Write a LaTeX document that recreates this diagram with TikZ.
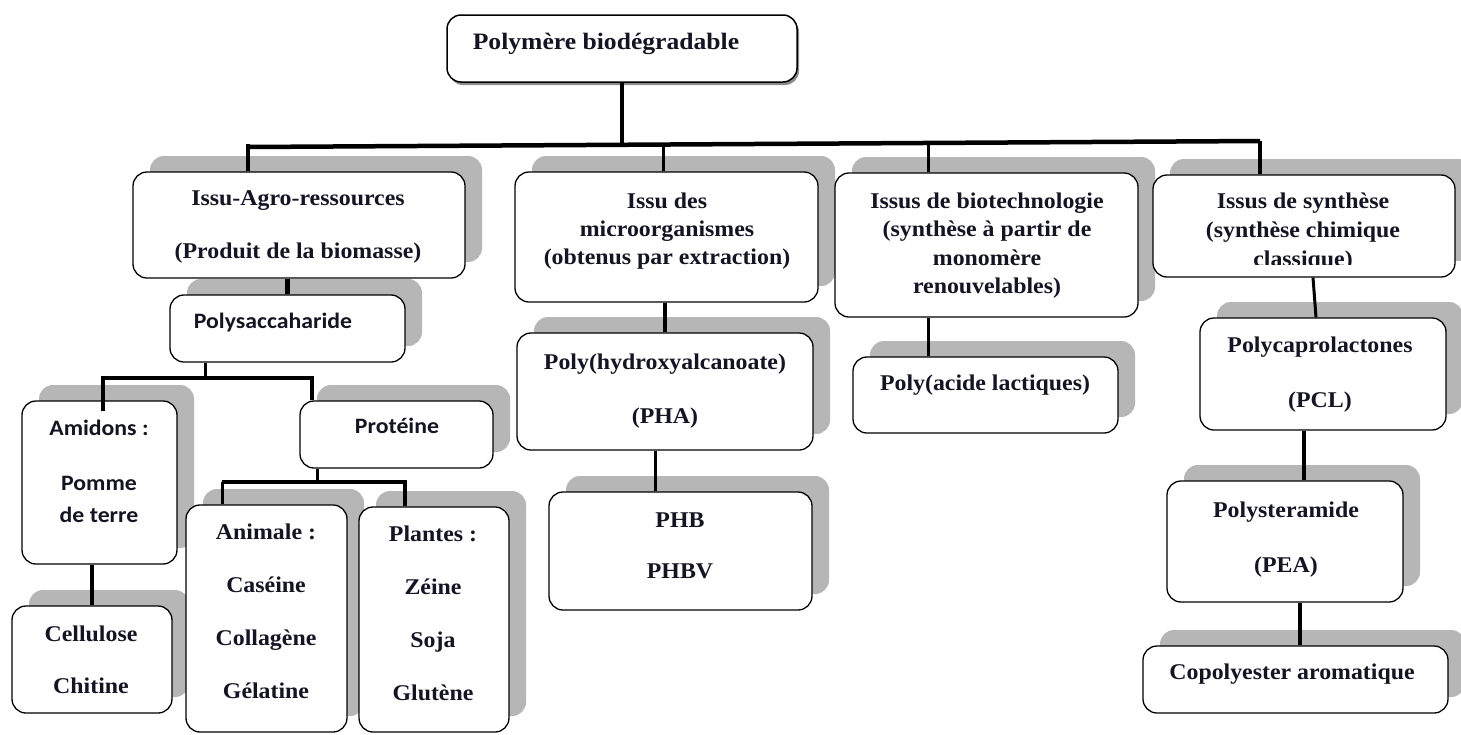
\documentclass[tikz,border=0pt]{standalone}
\usepackage{fontspec}
\setmainfont{Liberation Serif}
\newfontfamily\serfont[FakeStretch=1.06]{Liberation Serif}
\newfontfamily\topfont[FakeStretch=1.09]{Liberation Serif}
\newfontfamily\sanfont[FakeStretch=1.08]{Carlito}
\usetikzlibrary{shadows}
\definecolor{shadowc}{RGB}{182,182,182}
\definecolor{inkc}{RGB}{20,20,35}
\newcommand\sertxt[2]{\serfont\bfseries\fontsize{#1}{#2}\selectfont}
\newcommand\santxt[2]{\sanfont\bfseries\fontsize{#1}{#2}\selectfont}
\begin{document}
\begin{tikzpicture}[x=1pt,y=-1pt,
  box/.style={draw=black, line width=1.3pt, rounded corners=14pt, fill=white, inner sep=0pt,
     drop shadow={shadow xshift=17pt, shadow yshift=16pt, fill=shadowc, opacity=1}},
  topbox/.style={draw=black, line width=1.5pt, rounded corners=14pt, fill=white, inner sep=0pt,
     drop shadow={shadow xshift=2pt, shadow yshift=-3pt, fill=black!45, opacity=1}},
  lbl/.style={anchor=base, align=center, inner sep=0pt, text=inkc},
  wire/.style={line width=4.5pt},
  wirethin/.style={line width=3pt},
]
\useasboundingbox[fill=white] (0,0) rectangle (1461,734);

% boxes
\node[topbox, minimum width=350pt, minimum height=67pt] (top) at (622,48.5) {};
\node[box, minimum width=332pt, minimum height=106pt] (agro) at (299,225) {};
\node[box, minimum width=235pt, minimum height=67pt] (poly) at (287.5,328.5) {};
\node[box, minimum width=155pt, minimum height=163pt] (amid) at (99.5,482.5) {};
\node[box, minimum width=160pt, minimum height=107pt] (cell) at (92,659.5) {};
\node[box, minimum width=193pt, minimum height=67pt] (prot) at (396.5,434.5) {};
\node[box, minimum width=161pt, minimum height=227pt] (anim) at (266.5,618.5) {};
\node[box, minimum width=150pt, minimum height=225pt] (plan) at (434,619.5) {};
\node[box, minimum width=303pt, minimum height=130pt] (micro) at (666.5,237) {};
\node[box, minimum width=296pt, minimum height=117pt] (pha) at (665,391.5) {};
\node[box, minimum width=263pt, minimum height=118pt] (phb) at (680.5,551) {};
\node[box, minimum width=303pt, minimum height=144pt] (bio) at (986.5,245) {};
\node[box, minimum width=265pt, minimum height=76pt] (pla) at (985.5,395) {};
\node[box, minimum width=302pt, minimum height=102pt] (syn) at (1304,226) {};
\node[box, minimum width=246pt, minimum height=112pt] (pcl) at (1323,374) {};
\node[box, minimum width=236pt, minimum height=121pt] (pea) at (1285,541.5) {};
\node[box, minimum width=305pt, minimum height=67pt] (copo) at (1295.5,679.5) {};

% texts (anchor = baseline of the last line)
\node[lbl, font=\topfont\bfseries\fontsize{23.5}{28}\selectfont] (ttop) at (606,49) {Polymère biodégradable};
\node[lbl, font=\sertxt{22.5}{53}] (tagro) at (298,258) {Issu-Agro-ressources\\(Produit de la biomasse)};
\node[lbl, font=\santxt{22}{26}] (tpoly) at (273,328) {Polysaccaharide};
\node[lbl, font=\santxt{22}{32}] (tamid) at (99,522) {Amidons :\\[23pt]Pomme\\de terre};
\node[lbl, font=\sertxt{22.5}{52}] (tcell) at (91,693) {Cellulose\\Chitine};
\node[lbl, font=\santxt{22}{26}] (tprot) at (397,433) {Protéine};
\node[lbl, font=\sertxt{22.5}{52.7}] (tanim) at (266,698) {Animale :\\Caséine\\Collagène\\Gélatine};
\node[lbl, font=\sertxt{22.5}{52.7}] (tplan) at (433,700) {Plantes :\\Zéine\\Soja\\Glutène};
\node[lbl, font=\sertxt{22.5}{28}] (tmicro) at (667,264) {Issu des\\microorganismes\\(obtenus par extraction)};
\node[lbl, font=\sertxt{22.5}{54}] (tpha) at (665,423) {Poly(hydroxyalcanoate)\\(PHA)};
\node[lbl, font=\sertxt{22.5}{51}] (tphb) at (680,578) {PHB\\PHBV};
\node[lbl, font=\sertxt{22.5}{28.5}] (tbio) at (987,293.5) {Issus de biotechnologie\\(synthèse à partir de\\monomère\\renouvelables)};
\node[lbl, font=\sertxt{22.5}{28}] (tpla) at (985,390) {Poly(acide lactiques)};
\begin{scope}
\clip (syn.north west) rectangle ([yshift=13pt]syn.south east);
\node[lbl, font=\sertxt{22.5}{29}] (tsyn) at (1303,266) {Issus de synthèse\\(synthèse chimique\\classique)};
\end{scope}
\node[lbl, font=\sertxt{22.5}{55}] (tpcl) at (1320,407) {Polycaprolactones\\(PCL)};
\node[lbl, font=\sertxt{22.5}{55}] (tpea) at (1286,572) {Polysteramide\\(PEA)};
\node[lbl, font=\sertxt{22.5}{28}] (tcopo) at (1292,679) {Copolyester aromatique};

% connectors
\coordinate (b0) at (248,147);
\coordinate (b1) at (620,145);
\coordinate (b2) at (663,144.5);
\coordinate (b3) at (928,143);
\coordinate (b4) at (1260,141);
\draw[wire] (top.south) -- (top.south |- b1);
\draw[wire] (b0) -- (b4);
\draw[wire] ([yshift=3pt]b0) -- (b0 |- agro.north);
\draw[wirethin] (b2) -- (b2 |- micro.north);
\draw[wirethin] (b3) -- (b3 |- bio.north);
\draw[wire] (b4) -- (b4 |- syn.north);

\draw[wire] (poly.north |- agro.south) -- (poly.north);
\coordinate (p0) at (205,378);
\coordinate (p1) at (103,378);
\coordinate (p2) at (312,378);
\draw[wirethin] (p0 |- poly.south) -- (p0);
\draw[wire] ([yshift=-11pt]p1 |- amid.north) -- (p1) -- (p2) -- (p2 |- prot.north);
\draw[wire] (cell.north |- amid.south) -- (cell.north);
\coordinate (q0) at (317,482);
\coordinate (q1) at (222,482);
\coordinate (q2) at (405,482);
\draw[wirethin] (q0 |- prot.south) -- (q0);
\draw[wire] (q1) -- (q2) -- (q2 |- plan.north);
\draw[wirethin] (q1) -- (q1 |- anim.north);

\draw[wire] (pha.north |- micro.south) -- (pha.north);
\draw[wirethin] ([xshift=-10pt]pha.south) -- ([xshift=-10pt]pha.south |- phb.north);
\draw[wirethin] (b3 |- bio.south) -- (b3 |- pla.north);
\draw[wirethin] ([xshift=9pt]syn.south) -- ([xshift=-7pt]pcl.north);
\draw[wire] ([xshift=-19pt]pcl.south) -- ([xshift=-19pt]pcl.south |- pea.north);
\draw[wire] ([xshift=15pt]pea.south) -- ([xshift=15pt]pea.south |- copo.north);
\end{tikzpicture}
\end{document}
